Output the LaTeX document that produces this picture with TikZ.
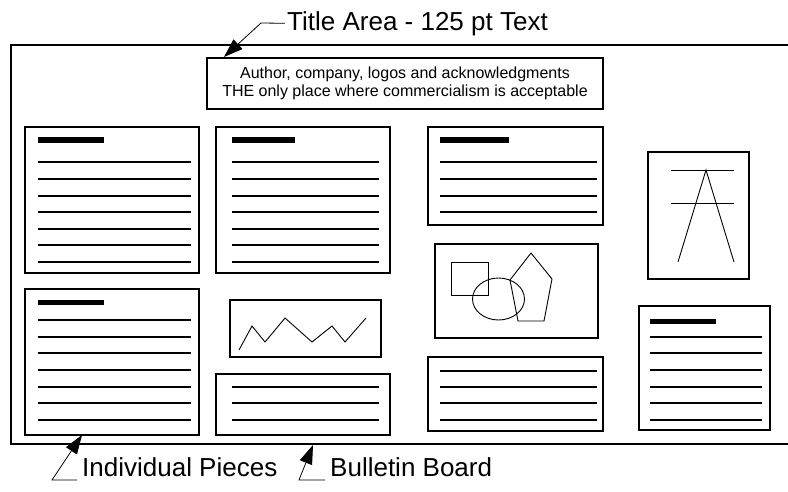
\documentclass[tikz,border=0pt]{standalone}
\usepackage{fontspec}
\setmainfont{Liberation Sans}
\usetikzlibrary{arrows.meta}
\tikzset{
  board/.style={line width=1.1pt},
  pieceframe/.style={draw, line width=1.1pt},
  rulel/.style={line width=1.1pt},
  thinshape/.style={line width=0.9pt, line join=miter},
  headbar/.style={line width=5.5pt},
  callout/.style={line width=0.8pt, -{Triangle[length=19pt,width=13pt]}},
  biglabel/.style={font=\fontsize{26}{30}\selectfont, inner sep=0pt, anchor=base west},
  titlebox/.style={draw, line width=1.1pt, minimum width=396pt, minimum height=51pt, inner sep=0pt,
    align=center, font=\fontsize{16}{18}\selectfont},
}
\begin{document}
\begin{tikzpicture}[x=1pt,y=-1pt]
\useasboundingbox (0,0) rectangle (788,491);
% bulletin board
\draw[board] (788,45) -- (11,45) -- (11,444) -- (788,444);
% title box
\node[titlebox] (title) at (405,83.5) {Author, company, logos and acknowledgments\\THE only place where commercialism is acceptable};
% piece A
\draw[pieceframe] (25,127) rectangle (199,273);
\draw[headbar] (38,140) -- (104,140);
\foreach \y in {162,179,196,212,229,245,262} \draw[rulel] (38,\y) -- (191,\y);
% piece B
\draw[pieceframe] (216,127) rectangle (390,273);
\draw[headbar] (232,140) -- (295,140);
\foreach \y in {162,179,196,212,229,245,262} \draw[rulel] (232,\y) -- (379,\y);
% piece C
\draw[pieceframe] (428,127) rectangle (603,225);
\draw[headbar] (440,140) -- (509,140);
\foreach \y in {162,179,196,212} \draw[rulel] (440,\y) -- (597,\y);
% piece D
\draw[pieceframe] (428,357) rectangle (603,431);
\foreach \y in {371,387,403,420} \draw[rulel] (440,\y) -- (597,\y);
% piece E
\draw[pieceframe] (639,306) rectangle (770,430);
\draw[headbar] (650,321.5) -- (716,321.5);
\foreach \y in {337,353,370,387,403,420} \draw[rulel] (650,\y) -- (762,\y);
% piece F
\draw[pieceframe] (25,289) rectangle (199,435);
\draw[headbar] (38,302.5) -- (104,302.5);
\foreach \y in {320,337,353,370,387,403,420} \draw[rulel] (38,\y) -- (191,\y);
% piece H
\draw[pieceframe] (216,374) rectangle (390,435);
\foreach \y in {387,403,420} \draw[rulel] (232,\y) -- (379,\y);
% piece G (zigzag)
\draw[pieceframe] (230,300) rectangle (381,357);
\draw[thinshape] (239,350) -- (252,326) -- (265,342) -- (285,318) -- (312,342) -- (332,326) -- (345,342) -- (366,318);
% piece I (shapes)
\draw[pieceframe] (435,244) rectangle (598,338);
\draw[thinshape] (451,262) rectangle (488,295);
\draw[thinshape] (498.5,299) ellipse [x radius=26, y radius=21];
\draw[thinshape] (531,253) -- (552,279) -- (544,321) -- (518,321) -- (510,280) -- cycle;
% piece J (A figure)
\draw[pieceframe] (648,152) rectangle (749,279);
\draw[thinshape] (671,170) -- (734,170);
\draw[thinshape] (671,203) -- (734,203);
\draw[thinshape] (678,262) -- (706,170) -- (734,262);
% callouts
\node[biglabel] (tl) at (287,30) {Title Area - 125 pt Text};
\coordinate (tlbend) at (261,23);
\coordinate (tltip) at (224,57);
\draw[callout] ([xshift=-2pt]tl.west) -- (tlbend) -- (tltip);
\node[biglabel] (ip) at (82,476) {Individual Pieces};
\coordinate (ipbend) at (52,480);
\coordinate (iptip) at (82,435);
\draw[callout] ([xshift=-5pt,yshift=-4pt]ip.base west) -- (ipbend) -- (iptip);
\node[biglabel] (bb) at (330,476) {Bulletin Board};
\coordinate (bbbend) at (299,480);
\coordinate (bbtip) at (313,445);
\draw[callout] ([xshift=-5pt,yshift=-4pt]bb.base west) -- (bbbend) -- (bbtip);
\end{tikzpicture}
\end{document}
